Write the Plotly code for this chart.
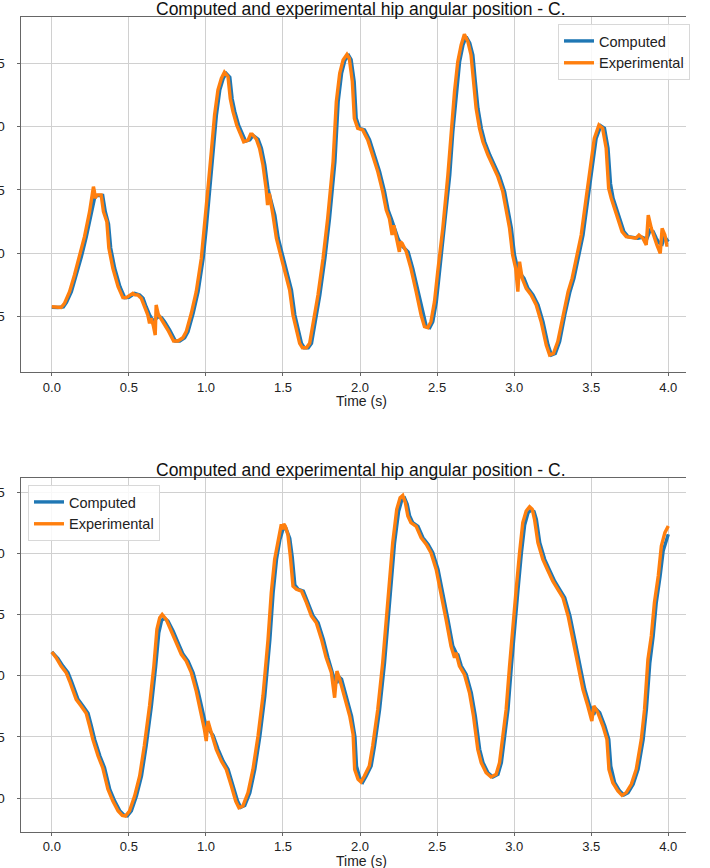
import plotly.graph_objects as go

# ---------------- data ----------------
TOP_EXP_T = [0.000, 0.030, 0.060, 0.082, 0.115, 0.147, 0.180, 0.212, 0.245, 0.262, 0.270, 0.276, 0.281, 0.292,
             0.320, 0.335, 0.357, 0.370, 0.396, 0.430, 0.461, 0.483, 0.500, 0.526, 0.540, 0.558, 0.580, 0.600,
             0.623, 0.634, 0.645, 0.658, 0.667, 0.671, 0.677, 0.690, 0.700, 0.720, 0.753, 0.790, 0.818, 0.850,
             0.872, 0.905, 0.937, 0.970, 0.990, 1.013, 1.035, 1.056, 1.078, 1.100, 1.120, 1.143, 1.158, 1.175,
             1.200, 1.219, 1.245, 1.273, 1.290, 1.300, 1.327, 1.348, 1.370, 1.390, 1.400, 1.406, 1.413, 1.435,
             1.457, 1.490, 1.520, 1.543, 1.565, 1.587, 1.608, 1.626, 1.652, 1.673, 1.695, 1.727, 1.760, 1.790,
             1.825, 1.846, 1.868, 1.890, 1.915, 1.930, 1.950, 1.963, 1.985, 2.017, 2.050, 2.082, 2.115, 2.147,
             2.170, 2.190, 2.208, 2.219, 2.234, 2.255, 2.262, 2.273, 2.300, 2.330, 2.364, 2.396, 2.418, 2.440,
             2.460, 2.483, 2.504, 2.537, 2.570, 2.590, 2.613, 2.634, 2.656, 2.677, 2.700, 2.720, 2.736, 2.753,
             2.775, 2.797, 2.830, 2.860, 2.894, 2.926, 2.948, 2.970, 2.990, 3.010, 3.024, 3.035, 3.052, 3.078,
             3.110, 3.143, 3.175, 3.208, 3.230, 3.255, 3.283, 3.316, 3.350, 3.376, 3.400, 3.435, 3.467, 3.493,
             3.520, 3.550, 3.574, 3.597, 3.613, 3.630, 3.650, 3.673, 3.700, 3.727, 3.760, 3.790, 3.810, 3.835,
             3.857, 3.870, 3.890, 3.910, 3.926, 3.948, 3.960, 3.978, 3.990, 4.000]
TOP_EXP_Y = [5.76, 5.72, 5.70, 6.02, 6.95, 8.27, 9.72, 11.30, 13.27, 14.60, 15.25, 14.90, 14.33, 14.60,
             14.60, 13.27, 12.48, 10.40, 8.80, 7.35, 6.48, 6.48, 6.60, 6.82, 6.70, 6.69, 6.43, 5.76,
             5.10, 4.45, 4.85, 4.30, 3.60, 3.52, 5.90, 5.20, 4.97, 4.58, 3.92, 3.05, 3.05, 3.31,
             3.79, 5.24, 6.95, 9.58, 11.96, 15.12, 18.02, 20.92, 22.90, 23.80, 24.30, 23.95, 22.20, 21.20,
             20.10, 19.60, 18.80, 18.93, 19.40, 19.40, 19.00, 18.28, 16.96, 15.12, 13.80, 14.60, 14.60, 13.00,
             11.17, 9.58, 8.14, 7.08, 5.10, 3.79, 2.87, 2.52, 2.52, 2.87, 4.31, 6.69, 9.58, 12.75,
             17.23, 21.97, 24.20, 25.26, 25.70, 25.40, 23.55, 20.65, 19.86, 19.73, 18.94, 17.75, 16.44, 14.86,
             13.40, 12.75, 11.43, 12.20, 11.17, 10.10, 10.90, 10.77, 10.10, 8.79, 6.95, 5.10, 4.18, 4.10,
             4.58, 6.16, 8.53, 11.96, 16.17, 19.60, 22.76, 25.13, 26.45, 27.29, 26.70, 25.66, 23.55, 21.44,
             19.86, 18.80, 17.75, 16.96, 16.04, 14.86, 13.54, 11.96, 9.85, 8.79, 6.95, 9.32, 8.00, 7.21,
             6.69, 5.90, 4.58, 2.73, 1.94, 2.07, 3.00, 5.10, 6.95, 8.00, 9.32, 11.43, 14.33, 16.70,
             19.07, 20.12, 19.86, 18.28, 15.12, 14.33, 13.54, 12.75, 11.70, 11.30, 11.22, 11.17, 11.43, 11.17,
             10.64, 13.00, 11.96, 11.17, 10.64, 9.98, 11.96, 11.43, 10.64, 10.64]

TOP_COMP_T = [0.000, 0.040, 0.075, 0.095, 0.127, 0.160, 0.192, 0.224, 0.257, 0.280, 0.300, 0.330, 0.347, 0.368,
              0.382, 0.408, 0.442, 0.473, 0.500, 0.538, 0.570, 0.592, 0.612, 0.635, 0.660, 0.690, 0.712, 0.732,
              0.765, 0.802, 0.830, 0.862, 0.884, 0.917, 0.949, 0.982, 1.002, 1.025, 1.047, 1.068, 1.090, 1.112,
              1.132, 1.155, 1.170, 1.187, 1.212, 1.231, 1.257, 1.285, 1.305, 1.339, 1.360, 1.382, 1.402, 1.425,
              1.447, 1.469, 1.502, 1.532, 1.555, 1.577, 1.599, 1.620, 1.638, 1.664, 1.685, 1.707, 1.739, 1.772,
              1.802, 1.837, 1.858, 1.880, 1.902, 1.927, 1.942, 1.962, 1.975, 1.997, 2.029, 2.062, 2.094, 2.127,
              2.159, 2.182, 2.202, 2.225, 2.246, 2.270, 2.290, 2.312, 2.342, 2.376, 2.408, 2.430, 2.452, 2.472,
              2.495, 2.516, 2.549, 2.582, 2.602, 2.625, 2.646, 2.668, 2.689, 2.712, 2.732, 2.748, 2.765, 2.787,
              2.809, 2.842, 2.872, 2.906, 2.938, 2.960, 2.982, 3.002, 3.022, 3.045, 3.064, 3.090, 3.122, 3.155,
              3.187, 3.220, 3.242, 3.267, 3.295, 3.328, 3.362, 3.388, 3.412, 3.447, 3.479, 3.505, 3.532, 3.562,
              3.586, 3.609, 3.625, 3.642, 3.662, 3.685, 3.712, 3.739, 3.772, 3.802, 3.830, 3.860, 3.882, 3.902,
              3.922, 3.940, 3.960, 3.975, 4.000]
TOP_COMP_Y = [5.72, 5.70, 5.75, 6.10, 6.95, 8.27, 9.72, 11.30, 13.27, 14.50, 14.55, 14.55, 13.27, 12.30,
              10.40, 8.80, 7.35, 6.48, 6.50, 6.82, 6.69, 6.43, 5.76, 5.10, 4.60, 5.00, 4.90, 4.58,
              3.92, 3.05, 3.05, 3.31, 3.79, 5.24, 6.95, 9.58, 11.96, 15.12, 18.02, 20.92, 22.90, 23.80,
              24.20, 23.90, 22.20, 21.20, 20.10, 19.60, 18.85, 18.95, 19.30, 19.00, 18.28, 16.96, 15.12, 14.00,
              13.00, 11.17, 9.58, 8.14, 7.08, 5.10, 3.79, 2.87, 2.52, 2.52, 2.87, 4.31, 6.69, 9.58,
              12.75, 17.23, 21.97, 24.20, 25.26, 25.60, 25.30, 23.55, 20.65, 19.86, 19.73, 18.94, 17.75, 16.44,
              14.86, 13.40, 12.75, 11.80, 11.17, 10.60, 10.40, 10.10, 8.79, 6.95, 5.10, 4.18, 4.10, 4.58,
              6.16, 8.53, 11.96, 16.17, 19.60, 22.76, 25.13, 26.45, 27.10, 26.60, 25.66, 23.55, 21.44, 19.86,
              18.80, 17.75, 16.96, 16.04, 14.86, 13.54, 11.96, 9.85, 8.79, 8.30, 8.00, 7.21, 6.69, 5.90,
              4.58, 2.73, 1.94, 2.07, 3.00, 5.10, 6.95, 8.00, 9.32, 11.43, 14.33, 16.70, 19.07, 20.05,
              19.86, 18.28, 15.50, 14.33, 13.54, 12.75, 11.70, 11.30, 11.22, 11.17, 11.25, 11.10, 11.80, 11.70,
              11.17, 10.80, 10.70, 11.30, 10.90]

BOT_EXP_T = [0.000, 0.028, 0.060, 0.093, 0.115, 0.136, 0.158, 0.190, 0.223, 0.245, 0.266, 0.300, 0.330, 0.364,
             0.396, 0.430, 0.457, 0.478, 0.504, 0.537, 0.570, 0.600, 0.634, 0.662, 0.682, 0.700, 0.716, 0.742,
             0.775, 0.807, 0.840, 0.872, 0.905, 0.937, 0.970, 0.990, 1.002, 1.013, 1.035, 1.067, 1.100, 1.132,
             1.165, 1.193, 1.214, 1.240, 1.273, 1.305, 1.338, 1.370, 1.403, 1.424, 1.446, 1.468, 1.489, 1.500,
             1.505, 1.515, 1.532, 1.548, 1.565, 1.587, 1.620, 1.652, 1.684, 1.716, 1.750, 1.780, 1.814, 1.835,
             1.850, 1.868, 1.900, 1.933, 1.955, 1.965, 1.987, 2.006, 2.028, 2.060, 2.082, 2.115, 2.147, 2.180,
             2.212, 2.238, 2.260, 2.277, 2.294, 2.310, 2.330, 2.364, 2.396, 2.430, 2.460, 2.494, 2.526, 2.558,
             2.590, 2.613, 2.623, 2.645, 2.677, 2.710, 2.736, 2.764, 2.786, 2.818, 2.850, 2.883, 2.905, 2.926,
             2.948, 2.970, 2.990, 3.013, 3.035, 3.056, 3.078, 3.100, 3.117, 3.132, 3.154, 3.170, 3.186, 3.220,
             3.250, 3.283, 3.316, 3.350, 3.380, 3.413, 3.446, 3.478, 3.504, 3.517, 3.543, 3.576, 3.602, 3.615,
             3.640, 3.673, 3.700, 3.727, 3.760, 3.792, 3.825, 3.846, 3.868, 3.890, 3.910, 3.935, 3.955, 3.978,
             4.000]
BOT_EXP_Y = [11.93, 11.47, 10.78, 10.24, 9.56, 8.74, 8.06, 7.52, 6.92, 5.88, 4.79, 3.43, 2.48, 0.71,
             -0.25, -1.06, -1.42, -1.47, -1.06, 0.16, 1.80, 4.25, 7.52, 10.78, 13.78, 14.73, 15.00, 14.60,
             13.64, 12.69, 11.74, 11.19, 10.24, 8.74, 6.97, 5.61, 4.66, 6.29, 5.34, 3.98, 3.02, 2.34,
             0.98, -0.25, -0.79, -0.65, 0.44, 2.34, 5.07, 8.33, 12.96, 16.78, 19.50, 21.13, 22.36, 21.95,
             22.40, 22.20, 21.50, 19.70, 17.30, 17.05, 16.90, 15.96, 14.87, 14.32, 12.96, 11.47, 10.24, 8.20,
             10.37, 9.70, 8.33, 6.70, 5.20, 2.34, 1.53, 1.31, 1.80, 2.61, 4.25, 7.24, 11.06, 15.96,
             20.86, 23.58, 24.54, 24.73, 24.13, 23.04, 22.50, 22.20, 21.27, 20.72, 20.04, 18.68, 16.78, 14.60,
             12.42, 11.47, 11.87, 10.78, 10.10, 8.60, 6.70, 3.98, 2.89, 2.07, 1.72, 1.94, 2.89, 4.79,
             7.24, 10.78, 14.05, 17.05, 20.04, 22.50, 23.45, 23.80, 23.60, 22.77, 20.86, 20.18, 19.50, 18.55,
             17.73, 17.05, 16.37, 14.87, 12.96, 10.78, 8.88, 7.52, 6.29, 7.52, 6.97, 5.88, 4.79, 2.34,
             1.25, 0.57, 0.22, 0.44, 1.12, 2.34, 4.79, 7.24, 11.33, 13.24, 15.96, 18.14, 20.59, 21.68,
             22.22]

BOT_COMP_T = [0.000, 0.040, 0.072, 0.105, 0.127, 0.148, 0.170, 0.202, 0.235, 0.257, 0.278, 0.312, 0.342, 0.376,
              0.408, 0.442, 0.469, 0.490, 0.516, 0.549, 0.582, 0.612, 0.646, 0.674, 0.694, 0.712, 0.730, 0.754,
              0.787, 0.819, 0.852, 0.884, 0.917, 0.949, 0.982, 1.002, 1.025, 1.047, 1.079, 1.112, 1.144, 1.177,
              1.205, 1.226, 1.252, 1.285, 1.317, 1.350, 1.382, 1.415, 1.436, 1.458, 1.480, 1.501, 1.520, 1.544,
              1.560, 1.577, 1.599, 1.632, 1.664, 1.696, 1.728, 1.762, 1.792, 1.826, 1.850, 1.862, 1.880, 1.912,
              1.945, 1.967, 1.977, 1.999, 2.018, 2.040, 2.072, 2.094, 2.127, 2.159, 2.192, 2.224, 2.250, 2.272,
              2.289, 2.306, 2.322, 2.342, 2.376, 2.408, 2.442, 2.472, 2.506, 2.538, 2.570, 2.602, 2.625, 2.635,
              2.657, 2.689, 2.722, 2.748, 2.776, 2.798, 2.830, 2.862, 2.895, 2.917, 2.938, 2.960, 2.982, 3.002,
              3.025, 3.047, 3.068, 3.090, 3.112, 3.129, 3.144, 3.166, 3.182, 3.198, 3.232, 3.262, 3.295, 3.328,
              3.362, 3.392, 3.425, 3.458, 3.490, 3.516, 3.529, 3.555, 3.588, 3.614, 3.627, 3.652, 3.685, 3.712,
              3.739, 3.772, 3.804, 3.837, 3.858, 3.880, 3.902, 3.922, 3.947, 3.967, 4.000]
BOT_COMP_Y = [11.93, 11.40, 10.78, 10.24, 9.56, 8.74, 8.06, 7.52, 6.92, 5.88, 4.79, 3.43, 2.48, 0.71,
              -0.25, -1.06, -1.40, -1.45, -1.06, 0.16, 1.80, 4.25, 7.52, 10.78, 13.50, 14.50, 14.70, 14.45,
              13.64, 12.69, 11.74, 11.19, 10.24, 8.74, 6.97, 5.80, 5.50, 5.10, 3.98, 3.02, 2.34, 0.98,
              -0.25, -0.75, -0.60, 0.44, 2.34, 5.07, 8.33, 12.96, 16.78, 19.50, 21.13, 22.00, 22.00, 21.20,
              19.70, 17.40, 17.05, 16.90, 15.96, 14.87, 14.32, 12.96, 11.47, 10.00, 9.40, 9.90, 9.70, 8.33,
              6.70, 5.00, 2.60, 1.60, 1.31, 1.80, 2.61, 4.25, 7.24, 11.06, 15.96, 20.86, 23.40, 24.40,
              24.50, 24.00, 23.04, 22.50, 22.20, 21.27, 20.72, 20.04, 18.68, 16.78, 14.60, 12.42, 11.80, 11.70,
              10.78, 10.10, 8.60, 6.70, 3.98, 2.89, 2.07, 1.72, 1.94, 2.89, 4.79, 7.24, 10.78, 14.05,
              17.05, 20.04, 22.30, 23.30, 23.55, 23.40, 22.77, 20.86, 20.18, 19.50, 18.55, 17.73, 17.05, 16.37,
              14.87, 12.96, 10.78, 8.88, 7.52, 6.80, 7.30, 6.97, 5.88, 4.79, 2.60, 1.25, 0.57, 0.25,
              0.44, 1.12, 2.34, 4.79, 7.24, 11.00, 13.24, 15.96, 18.14, 20.20, 21.54]

X_TICKS = [0.0, 0.5, 1.0, 1.5, 2.0, 2.5, 3.0, 3.5, 4.0]
X_TICK_LABELS = ["0.0", "0.5", "1.0", "1.5", "2.0", "2.5", "3.0", "3.5", "4.0"]
TOP_Y_TICKS = [5, 10, 15, 20, 25]
BOT_Y_TICKS = [0, 5, 10, 15, 20, 25]

TITLE = "Computed and experimental hip angular position - C."
X_LABEL = "Time (s)"
SERIES = ["Computed", "Experimental"]

# ---------------- figure ----------------
FONT = "Liberation Sans, Arial, sans-serif"
BLUE = "#1f77b4"
ORANGE = "#ff7f0e"
W, H = 710, 868
L, R = 21, 24


def py(p):
    return 1 - p / H


def px(p):
    return (p - L) / (W - L - R)


fig = go.Figure()
fig.add_trace(go.Scatter(x=TOP_COMP_T, y=TOP_COMP_Y, mode="lines", name=SERIES[0],
                         line=dict(color=BLUE, width=3.4), xaxis="x", yaxis="y", legend="legend"))
fig.add_trace(go.Scatter(x=TOP_EXP_T, y=TOP_EXP_Y, mode="lines", name=SERIES[1],
                         line=dict(color=ORANGE, width=3.4), xaxis="x", yaxis="y", legend="legend"))
fig.add_trace(go.Scatter(x=BOT_COMP_T, y=BOT_COMP_Y, mode="lines", name=SERIES[0],
                         line=dict(color=BLUE, width=3.4), xaxis="x2", yaxis="y2", legend="legend2"))
fig.add_trace(go.Scatter(x=BOT_EXP_T, y=BOT_EXP_Y, mode="lines", name=SERIES[1],
                         line=dict(color=ORANGE, width=3.4), xaxis="x2", yaxis="y2", legend="legend2"))

grid = "#d0d0d0"
frame = "#666666"
xcommon = dict(range=[-0.2, 4.115], tickvals=X_TICKS, ticktext=X_TICK_LABELS, automargin=False,
               showgrid=True, gridcolor=grid, gridwidth=1, zeroline=False,
               showline=True, linecolor=frame, linewidth=1, mirror=True,
               ticks="outside", tickcolor=frame,
               tickfont=dict(family=FONT, size=13, color="#222222"))
ycommon = dict(showgrid=True, gridcolor=grid, gridwidth=1, zeroline=False, automargin=False,
               showline=True, linecolor=frame, linewidth=1, mirror=False,
               ticks="outside", ticklen=3.5, tickcolor=frame, ticklabelstandoff=9,
               tickfont=dict(family=FONT, size=13.5, color="#222222"))

TITLE_FONT = dict(family=FONT, size=17.5, color="#111111")
LABEL_FONT = dict(family=FONT, size=14, color="#222222")

fig.update_layout(
    width=W, height=H,
    margin=dict(l=L, r=R, t=0, b=0, pad=0),
    paper_bgcolor="white", plot_bgcolor="white",
    font=dict(family=FONT, size=14, color="#222222"),
    xaxis=dict(domain=[0, 1], anchor="y", ticklen=3, **xcommon),
    yaxis=dict(domain=[py(372), py(17)], anchor="x", range=[0.60, 28.66],
               tickvals=TOP_Y_TICKS, **ycommon),
    xaxis2=dict(domain=[0, 1], anchor="y2", ticklen=2.2, **xcommon),
    yaxis2=dict(domain=[py(832.3), py(477.7)], anchor="x2", range=[-2.80, 26.17],
                tickvals=BOT_Y_TICKS, **ycommon),
    legend=dict(x=px(558), y=py(24), xanchor="left", yanchor="top",
                xref="paper", yref="paper",
                bgcolor="rgba(255,255,255,0.85)", bordercolor="#d8d8d8", borderwidth=1,
                font=dict(family=FONT, size=14.5, color="#222222"), tracegroupgap=0),
    legend2=dict(x=px(28), y=py(485), xanchor="left", yanchor="top",
                 xref="paper", yref="paper",
                 bgcolor="rgba(255,255,255,0.85)", bordercolor="#d8d8d8", borderwidth=1,
                 font=dict(family=FONT, size=14.5, color="#222222"), tracegroupgap=0),
    annotations=[
        dict(text=TITLE, xref="paper", yref="paper", x=px(361), y=py(9),
             xanchor="center", yanchor="middle", showarrow=False, font=TITLE_FONT),
        dict(text=TITLE, xref="paper", yref="paper", x=px(361), y=py(470),
             xanchor="center", yanchor="middle", showarrow=False, font=TITLE_FONT),
        dict(text=X_LABEL, xref="paper", yref="paper", x=px(361), y=py(401),
             xanchor="center", yanchor="middle", showarrow=False, font=LABEL_FONT),
        dict(text=X_LABEL, xref="paper", yref="paper", x=px(361), y=py(861),
             xanchor="center", yanchor="middle", showarrow=False, font=LABEL_FONT),
    ],
    showlegend=True,
)

fig.write_html("out.html", config={"displayModeBar": False},
               post_script="document.body.style.margin='0';document.body.style.overflow='hidden';")
